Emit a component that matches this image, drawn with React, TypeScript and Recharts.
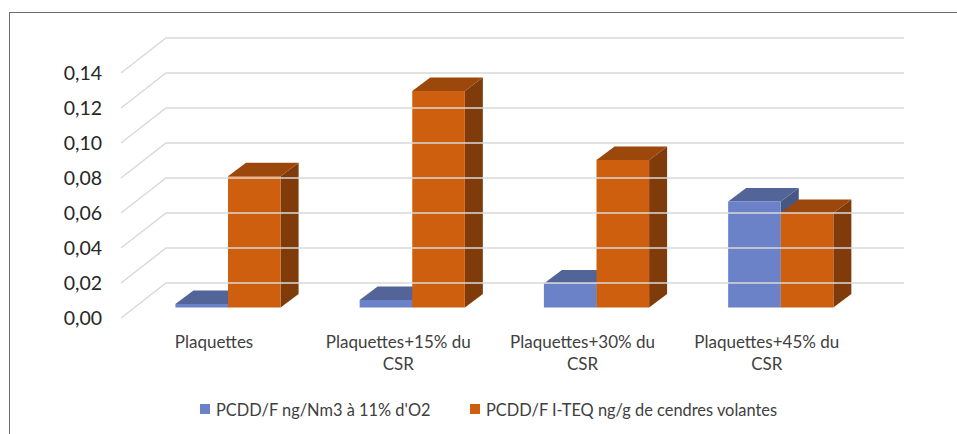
import React from "react";
import { BarChart, Bar, XAxis, YAxis, Legend } from "recharts";

const categories = ["Plaquettes", "Plaquettes+15% du CSR", "Plaquettes+30% du CSR", "Plaquettes+45% du CSR"];
const seriesBlue = [0.002, 0.0043, 0.0137, 0.0606];
const seriesOrange = [0.075, 0.1237, 0.0843, 0.054];
const yTicks = [0, 0.02, 0.04, 0.06, 0.08, 0.1, 0.12, 0.14];
const blueName = "PCDD/F ng/Nm3 à 11% d'O2";
const orangeName = "PCDD/F I-TEQ ng/g de cendres volantes";

const data = categories.map((name, i) => ({ name, blue: seriesBlue[i], orange: seriesOrange[i] }));

const FONT = "Lato, 'Open Sans', sans-serif";
const DX = 18;
const DY = -13.5;

const Box3D = (top: string, side: string) => (props: any) => {
  const { x, y, width, height, fill } = props;
  const r = x + width;
  const b = y + height;
  return (
    <g>
      <polygon points={`${r},${y} ${r + DX},${y + DY} ${r + DX},${b + DY} ${r},${b}`} fill={side} />
      <polygon points={`${x},${y} ${x + DX},${y + DY} ${r + DX},${y + DY} ${r},${y}`} fill={top} />
      <rect x={x} y={y} width={width} height={height} fill={fill} />
    </g>
  );
};

const YTick = (props: any) => {
  const { y, payload } = props;
  const f = y + 10.5;
  const back = y - 24.5;
  return (
    <g>
      <polyline points={`121,${f} 166,${back} 904,${back}`} fill="none" stroke="#D9D9D9" strokeWidth={1.5} />
      <text x={102} y={f} dy={6.8} textAnchor="end" fontFamily={FONT} fontSize={19.5} fill="#262626">
        {Number(payload.value).toFixed(2).replace(".", ",")}
      </text>
    </g>
  );
};

const XTick = (props: any) => {
  const { x, payload } = props;
  const s = String(payload.value);
  const k = s.lastIndexOf(" ");
  const lines = k < 0 ? [s] : [s.slice(0, k), s.slice(k + 1)];
  return (
    <g>
      {lines.map((l, i) => (
        <text key={i} x={x - 13.5} y={347.5 + i * 22.5} textAnchor="middle" fontFamily={FONT} fontSize={17} fill="#404040">
          {l}
        </text>
      ))}
    </g>
  );
};

const LegendContent = (props: any) => {
  const items = props.payload || [];
  return (
    <div style={{ position: "relative", height: 30, fontFamily: FONT, fontSize: 16.4, color: "#404040" }}>
      {items.map((it: any, i: number) => {
        const left = it.dataKey === "blue" ? 200 : 470;
        return (
          <div key={i} style={{ position: "absolute", left, top: 0, whiteSpace: "nowrap", display: "flex", alignItems: "center", height: 20 }}>
            <span style={{ width: 10, height: 10, background: it.color, display: "inline-block", marginRight: 6 }} />
            {it.value}
          </div>
        );
      })}
    </div>
  );
};

export default function App() {
  return (
    <div style={{ position: "absolute", left: 0, top: 0, width: 957, height: 434, background: "#fff", overflow: "hidden" }}>
      <div style={{ position: "absolute", left: 9, top: 12, width: 960, height: 440, borderLeft: "1.5px solid #6b6b6b", borderTop: "1.5px solid #6b6b6b" }} />
      <div style={{ position: "absolute", left: 0, top: 0 }}>
        <BarChart
          width={957}
          height={434}
          data={data}
          barSize={52.6}
          barGap={0}
          margin={{ top: 62.5, right: 84.6, bottom: 36.5, left: 0 }}
        >
          <YAxis
            width={135.4}
            domain={[0, 0.14]}
            ticks={yTicks}
            interval={0}
            axisLine={false}
            tickLine={false}
            tick={<YTick />}
          />
          <XAxis dataKey="name" height={60} interval={0} axisLine={false} tickLine={false} tick={<XTick />} />
          <Legend verticalAlign="bottom" height={30} content={<LegendContent />} wrapperStyle={{ left: 0, width: 957, bottom: 5 }} />
          <Bar dataKey="blue" name={blueName} fill="#6B82C8" isAnimationActive={false} shape={Box3D("#536499", "#465785")} />
          <Bar dataKey="orange" name={orangeName} fill="#CE5F0F" isAnimationActive={false} shape={Box3D("#9C470C", "#7F3C0A")} />
        </BarChart>
      </div>
    </div>
  );
}
